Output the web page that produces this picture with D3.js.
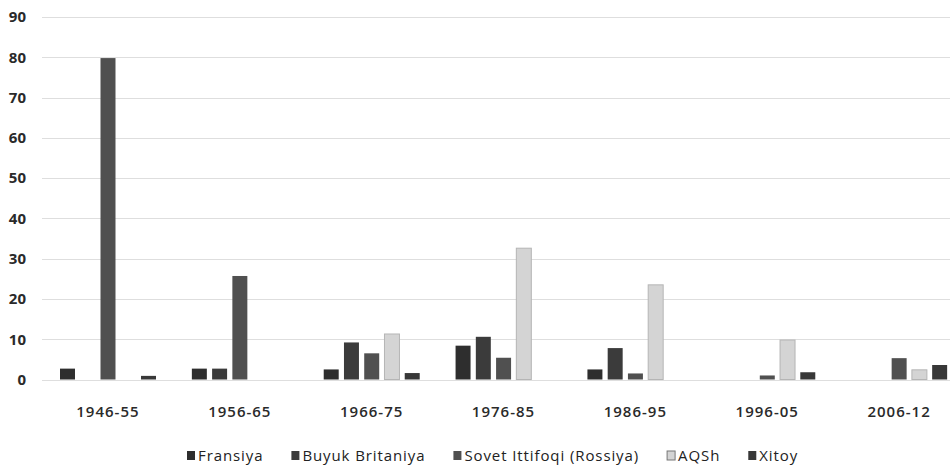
<!DOCTYPE html>
<html>
<head>
<meta charset="utf-8">
<script src="https://cdn.jsdelivr.net/npm/d3@7"></script>
<style>
  body { margin: 0; background: #fff; }
  #chart text { font-family: "Open Sans", sans-serif; fill: #222; }
</style>
</head>
<body>
<div id="chart"></div>
<script>
// periods and countries
const periods = ["1946-55", "1956-65", "1966-75", "1976-85", "1986-95", "1996-05", "2006-12"];
const countries = ["Fransiya", "Buyuk Britaniya", "Sovet Ittifoqi (Rossiya)", "AQSh", "Xitoy"];

// values per country, one per period
const fransiya = [2.7, 2.7, 2.5, 8.4, 2.5, 0, 0];
const britaniya = [0, 2.7, 9.2, 10.6, 7.8, 0, 0];
const sovet = [79.8, 25.7, 6.5, 5.4, 1.5, 1, 5.3];
const aqsh = [0, 0, 11.3, 32.6, 23.5, 9.8, 2.4];
const xitoy = [0.9, 0, 1.6, 0, 0, 1.8, 3.6];

const yTicks = [0, 10, 20, 30, 40, 50, 60, 70, 80, 90];
const colors = ["#2e2e2e", "#3b3b3b", "#505050", "#d4d4d4", "#383838"];

const seriesValues = [fransiya, britaniya, sovet, aqsh, xitoy];
const data = periods.map((p, i) => ({
    period: p,
    values: countries.map((c, j) => ({ country: c, value: seriesValues[j][i] }))
}));

const width = 950, height = 469;

const svg = d3.select("#chart").append("svg")
    .attr("width", width)
    .attr("height", height);

const y = d3.scaleLinear()
    .domain([0, 90])
    .range([379.5, 17]);

const x0 = d3.scaleBand()
    .domain(periods)
    .range([42, 965]);

const x1 = d3.scaleBand()
    .domain(countries)
    .range([18, 114])
    .paddingInner(0.26);

// gridlines
svg.append("g")
    .selectAll("line")
    .data(yTicks)
    .enter()
    .append("line")
    .attr("x1", 42)
    .attr("x2", 950)
    .attr("y1", d => Math.round(y(d)) + 0.5)
    .attr("y2", d => Math.round(y(d)) + 0.5)
    .attr("stroke", "#dedede")
    .attr("stroke-width", 1);

// y axis labels
const yAxis = svg.append("g")
    .attr("transform", "translate(26,0)")
    .call(d3.axisLeft(y).tickValues(yTicks).tickSize(0).tickPadding(0));
yAxis.select(".domain").remove();
yAxis.selectAll("text")
    .style("font-size", "15px")
    .style("font-weight", "700")
    .style("fill", "#2a2a2a");

// bars
const groups = svg.append("g")
    .selectAll("g")
    .data(data)
    .enter()
    .append("g")
    .attr("transform", d => `translate(${x0(d.period)},0)`);

groups.selectAll("rect")
    .data(d => d.values.filter(v => v.value > 0))
    .enter()
    .append("rect")
    .attr("x", d => x1(d.country))
    .attr("y", d => y(d.value))
    .attr("width", x1.bandwidth())
    .attr("height", d => y(0) - y(d.value))
    .attr("fill", d => colors[countries.indexOf(d.country)])
    .attr("stroke", d => d.country === "AQSh" ? "#b5b5b5" : "none")
    .attr("stroke-width", 1);

// x axis labels
const xAxis = svg.append("g")
    .attr("transform", "translate(0,403)")
    .call(d3.axisBottom(x0).tickSize(0).tickPadding(0));
xAxis.select(".domain").remove();
xAxis.selectAll("text")
    .attr("dy", "0.95em")
    .style("font-size", "15px")
    .style("font-weight", "600")
    .style("letter-spacing", "1px")
    .style("fill", "#2a2a2a");

// legend
const legend = svg.append("g").attr("transform", "translate(187,456)");
let lx = 0;
countries.forEach((c, i) => {
    const item = legend.append("g").attr("transform", `translate(${lx},0)`);
    item.append("rect")
        .attr("x", 0)
        .attr("y", -5)
        .attr("width", 8)
        .attr("height", 9)
        .attr("fill", colors[i])
        .attr("stroke", c === "AQSh" ? "#777" : "none");
    const t = item.append("text")
        .attr("x", 11)
        .attr("y", 0)
        .attr("dy", "0.35em")
        .style("font-size", "15px")
        .style("letter-spacing", "0.9px")
        .text(c);
    lx += 11 + t.node().getComputedTextLength() + 28;
});
</script>
</body>
</html>
